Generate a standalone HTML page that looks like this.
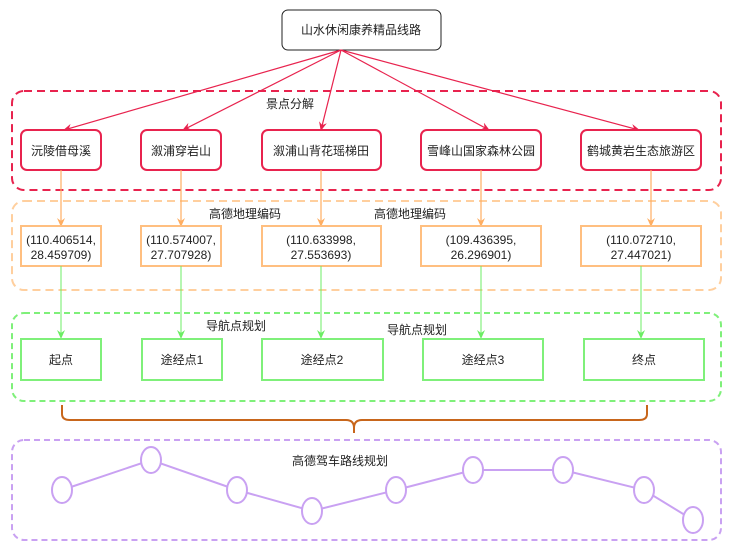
<!DOCTYPE html>
<html><head><meta charset="utf-8"><style>
html,body{margin:0;padding:0;background:#fff}
svg text{font-family:"Liberation Sans","Noto Sans CJK SC",sans-serif;font-size:12px;fill:#222}
</style></head><body>
<svg width="732" height="552" viewBox="0 0 732 552" xmlns="http://www.w3.org/2000/svg">
<defs>
<marker id="ar" markerWidth="10" markerHeight="10" refX="8" refY="5" orient="auto" markerUnits="userSpaceOnUse"><path d="M0,1 L9,5 L0,9 L3,5 Z" fill="#e8234e"/></marker>
<marker id="ao" markerWidth="10" markerHeight="10" refX="8" refY="5" orient="auto" markerUnits="userSpaceOnUse"><path d="M0,1 L9,5 L0,9 L3,5 Z" fill="#ffae62"/></marker>
<marker id="ag" markerWidth="10" markerHeight="10" refX="8" refY="5" orient="auto" markerUnits="userSpaceOnUse"><path d="M0,1 L9,5 L0,9 L3,5 Z" fill="#6ded64"/></marker>
</defs>
<!-- groups -->
<rect x="12" y="91" width="709" height="99" rx="12" fill="none" stroke="#e8234e" stroke-width="2" stroke-dasharray="8,5"/>
<rect x="12" y="201" width="709" height="89" rx="12" fill="none" stroke="#ffcf9e" stroke-width="2" stroke-dasharray="8,5"/>
<rect x="12" y="313" width="709" height="88" rx="12" fill="none" stroke="#7ff07a" stroke-width="2" stroke-dasharray="6,4"/>
<rect x="12" y="440" width="709" height="100" rx="12" fill="none" stroke="#c9a1f2" stroke-width="2" stroke-dasharray="6,4"/>
<text x="290" y="108" text-anchor="middle">景点分解</text>
<text x="245" y="218" text-anchor="middle">高德地理编码</text>
<text x="410" y="218" text-anchor="middle">高德地理编码</text>
<text x="236" y="330" text-anchor="middle">导航点规划</text>
<text x="417" y="334" text-anchor="middle">导航点规划</text>
<text x="340" y="465" text-anchor="middle">高德驾车路线规划</text>
<!-- top -->
<rect x="282" y="10" width="159" height="40" rx="6" fill="#fff" stroke="#222" stroke-width="1"/>
<text x="361" y="34" text-anchor="middle">山水休闲康养精品线路</text>
<g stroke="#e8234e" stroke-width="1.2" fill="none" marker-end="url(#ar)">
<line x1="341" y1="50" x2="64" y2="130"/>
<line x1="341" y1="50" x2="183" y2="130"/>
<line x1="341" y1="50" x2="321" y2="130"/>
<line x1="341" y1="50" x2="489" y2="130"/>
<line x1="341" y1="50" x2="639" y2="130"/>
</g>
<!-- red nodes -->
<g fill="#fff" stroke="#e8234e" stroke-width="2">
<rect x="21" y="130" width="80" height="40" rx="6"/>
<rect x="141" y="130" width="80" height="40" rx="6"/>
<rect x="262" y="130" width="119" height="40" rx="6"/>
<rect x="421" y="130" width="120" height="40" rx="6"/>
<rect x="581" y="130" width="120" height="40" rx="6"/>
</g>
<g text-anchor="middle">
<text x="61" y="155">沅陵借母溪</text>
<text x="181" y="155">溆浦穿岩山</text>
<text x="321" y="155">溆浦山背花瑶梯田</text>
<text x="481" y="155">雪峰山国家森林公园</text>
<text x="641" y="155">鹤城黄岩生态旅游区</text>
</g>
<g stroke="#ffae62" stroke-width="1.2" marker-end="url(#ao)">
<line x1="61" y1="170" x2="61" y2="226"/>
<line x1="181" y1="170" x2="181" y2="226"/>
<line x1="321" y1="170" x2="321" y2="226"/>
<line x1="481" y1="170" x2="481" y2="226"/>
<line x1="651" y1="170" x2="651" y2="226"/>
</g>
<g fill="#fff" stroke="#ffbf80" stroke-width="2">
<rect x="21" y="226" width="80" height="40"/>
<rect x="141" y="226" width="80" height="40"/>
<rect x="262" y="226" width="119" height="40"/>
<rect x="421" y="226" width="120" height="40"/>
<rect x="581" y="226" width="120" height="40"/>
</g>
<g text-anchor="middle">
<text x="61" y="244">(110.406514,</text><text x="61" y="259">28.459709)</text>
<text x="181" y="244">(110.574007,</text><text x="181" y="259">27.707928)</text>
<text x="321" y="244">(110.633998,</text><text x="321" y="259">27.553693)</text>
<text x="481" y="244">(109.436395,</text><text x="481" y="259">26.296901)</text>
<text x="641" y="244">(110.072710,</text><text x="641" y="259">27.447021)</text>
</g>
<g stroke="#6ded64" stroke-width="1" marker-end="url(#ag)">
<line x1="61" y1="266" x2="61" y2="338"/>
<line x1="181" y1="266" x2="181" y2="338"/>
<line x1="321" y1="266" x2="321" y2="338"/>
<line x1="481" y1="266" x2="481" y2="338"/>
<line x1="641" y1="266" x2="641" y2="338"/>
</g>
<g fill="#fff" stroke="#7ff07a" stroke-width="2">
<rect x="21" y="339" width="80" height="41"/>
<rect x="142" y="339" width="80" height="41"/>
<rect x="262" y="339" width="121" height="41"/>
<rect x="423" y="339" width="120" height="41"/>
<rect x="584" y="339" width="120" height="41"/>
</g>
<g text-anchor="middle">
<text x="61" y="364">起点</text>
<text x="182" y="364">途经点1</text>
<text x="322" y="364">途经点2</text>
<text x="483" y="364">途经点3</text>
<text x="644" y="364">终点</text>
</g>
<!-- brace -->
<path d="M62,405 L62,414 Q62,420 70,420 L346,420 Q354,420 354,428 L354,433 M354,428 Q354,420 362,420 L639,420 Q647,420 647,414 L647,405" fill="none" stroke="#c8661b" stroke-width="2"/>
<!-- route -->
<polyline points="62,490 151,460 237,490 312,511 396,490 473,470 563,470 644,490 693,520" fill="none" stroke="#c9a1f2" stroke-width="2"/>
<g fill="#fff" stroke="#c9a1f2" stroke-width="2">
<ellipse cx="62" cy="490" rx="10" ry="13"/>
<ellipse cx="151" cy="460" rx="10" ry="13"/>
<ellipse cx="237" cy="490" rx="10" ry="13"/>
<ellipse cx="312" cy="511" rx="10" ry="13"/>
<ellipse cx="396" cy="490" rx="10" ry="13"/>
<ellipse cx="473" cy="470" rx="10" ry="13"/>
<ellipse cx="563" cy="470" rx="10" ry="13"/>
<ellipse cx="644" cy="490" rx="10" ry="13"/>
<ellipse cx="693" cy="520" rx="10" ry="13"/>
</g>
</svg>
</body></html>
